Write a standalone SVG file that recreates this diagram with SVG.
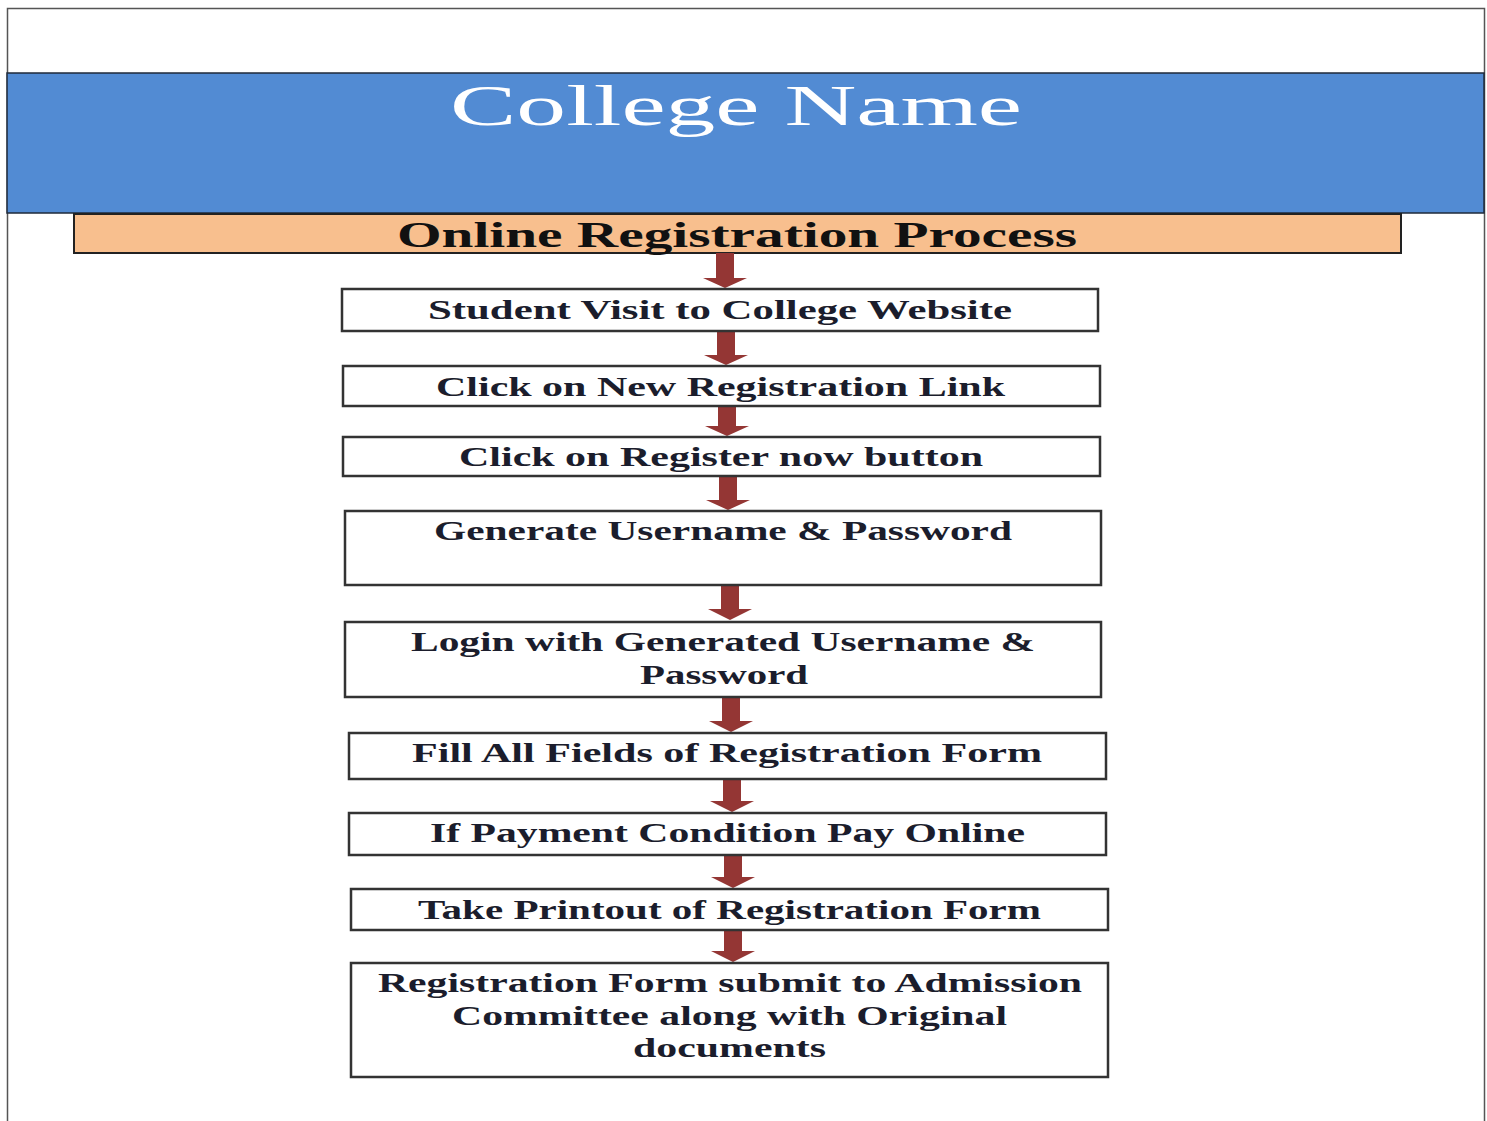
<svg xmlns="http://www.w3.org/2000/svg" width="1487" height="1121" viewBox="0 0 1487 1121">
<style>
.box{fill:#ffffff;stroke:#333333;stroke-width:2.5}
.t{font-family:"Liberation Serif","Times New Roman",serif;font-weight:bold;font-size:27px;fill:#1b1d2c;text-anchor:middle}
.arrow{fill:#943634}
</style>
<rect x="0" y="0" width="1487" height="1121" fill="#ffffff"/>
<path d="M7.5,1121 V8.5 H1484.5 V1121" fill="none" stroke="#555555" stroke-width="1.5"/>
<g id="header">
<rect x="7" y="73" width="1477" height="140" fill="#528BD3" stroke="#1f2a3a" stroke-width="1.5"/>
<text x="736" y="125" font-family="Liberation Serif, 'Times New Roman', serif" font-size="57" fill="#ffffff" text-anchor="middle" textLength="572" lengthAdjust="spacingAndGlyphs">College Name</text>
</g>
<g id="title">
<rect x="74" y="214" width="1327" height="39" fill="#F8BF8E" stroke="#222222" stroke-width="2"/>
<text x="737" y="247" font-family="Liberation Serif, 'Times New Roman', serif" font-weight="bold" font-size="36" fill="#111111" text-anchor="middle" textLength="680" lengthAdjust="spacingAndGlyphs">Online Registration Process</text>
</g>
<g id="connectors">
<path class="arrow" d="M716,253 H734 V278 H747 L725,288 L703,278 H716 Z"/>
<path class="arrow" d="M717,331 H735 V355 H748 L726,365 L704,355 H717 Z"/>
<path class="arrow" d="M718,406 H736 V426 H749 L727,436 L705,426 H718 Z"/>
<path class="arrow" d="M719,476 H737 V500 H750 L728,510 L706,500 H719 Z"/>
<path class="arrow" d="M721,585 H739 V609 H752 L730,620 L708,609 H721 Z"/>
<path class="arrow" d="M722,697 H740 V721 H753 L731,732 L709,721 H722 Z"/>
<path class="arrow" d="M723,779 H741 V801 H754 L732,812 L710,801 H723 Z"/>
<path class="arrow" d="M724,855 H742 V877 H755 L733,888 L711,877 H724 Z"/>
<path class="arrow" d="M724,930 H742 V951 H755 L733,962 L711,951 H724 Z"/>
</g>
<g id="step1">
<rect class="box" x="342" y="289" width="756" height="42"/>
<text class="t" x="720" y="319" textLength="584" lengthAdjust="spacingAndGlyphs">Student Visit to College Website</text>
</g>
<g id="step2">
<rect class="box" x="343" y="366" width="757" height="40"/>
<text class="t" x="720.5" y="396" textLength="569" lengthAdjust="spacingAndGlyphs">Click on New Registration Link</text>
</g>
<g id="step3">
<rect class="box" x="343" y="437" width="757" height="39"/>
<text class="t" x="721" y="466" textLength="524" lengthAdjust="spacingAndGlyphs">Click on Register now button</text>
</g>
<g id="step4">
<rect class="box" x="345" y="511" width="756" height="74"/>
<text class="t" x="723" y="540" textLength="578" lengthAdjust="spacingAndGlyphs">Generate Username &amp; Password</text>
</g>
<g id="step5">
<rect class="box" x="345" y="622" width="756" height="75"/>
<text class="t" x="723" y="651" textLength="624" lengthAdjust="spacingAndGlyphs">Login with Generated Username &amp;</text>
<text class="t" x="724" y="684" textLength="168" lengthAdjust="spacingAndGlyphs">Password</text>
</g>
<g id="step6">
<rect class="box" x="349" y="733" width="757" height="46"/>
<text class="t" x="727" y="762" textLength="630" lengthAdjust="spacingAndGlyphs">Fill All Fields of Registration Form</text>
</g>
<g id="step7">
<rect class="box" x="349" y="813" width="757" height="42"/>
<text class="t" x="727.5" y="842" textLength="595" lengthAdjust="spacingAndGlyphs">If Payment Condition Pay Online</text>
</g>
<g id="step8">
<rect class="box" x="351" y="889" width="757" height="41"/>
<text class="t" x="729.5" y="919" textLength="623" lengthAdjust="spacingAndGlyphs">Take Printout of Registration Form</text>
</g>
<g id="step9">
<rect class="box" x="351" y="963" width="757" height="114"/>
<text class="t" x="730" y="992" textLength="704" lengthAdjust="spacingAndGlyphs">Registration Form submit to Admission</text>
<text class="t" x="729.5" y="1025" textLength="555" lengthAdjust="spacingAndGlyphs">Committee along with Original</text>
<text class="t" x="729.5" y="1057" textLength="193" lengthAdjust="spacingAndGlyphs">documents</text>
</g>
</svg>
